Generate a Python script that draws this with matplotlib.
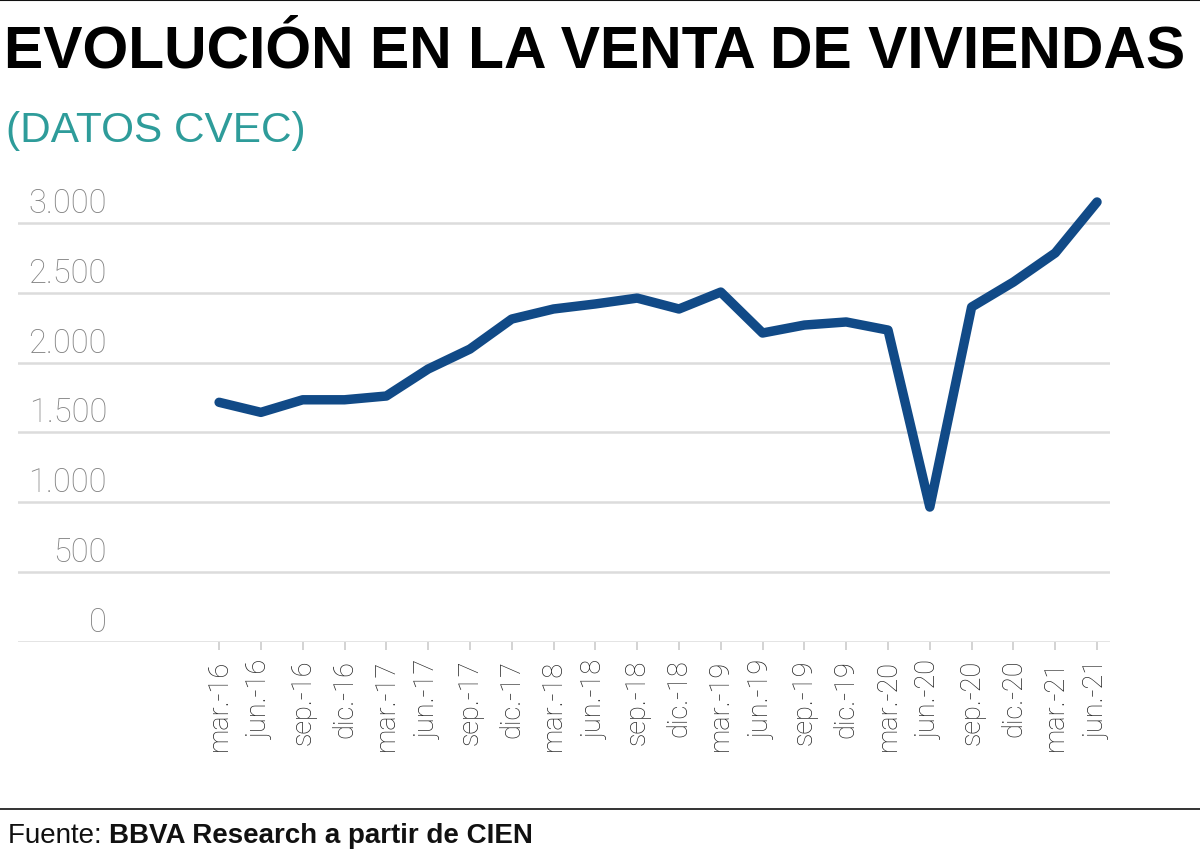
import matplotlib
matplotlib.use('Agg')
import matplotlib.pyplot as plt
from matplotlib import transforms
from matplotlib.lines import Line2D

W, H = 1200, 853

periods = ['mar.-16', 'jun.-16', 'sep.-16', 'dic.-16',
           'mar.-17', 'jun.-17', 'sep.-17', 'dic.-17',
           'mar.-18', 'jun.-18', 'sep.-18', 'dic.-18',
           'mar.-19', 'jun.-19', 'sep.-19', 'dic.-19',
           'mar.-20', 'jun.-20', 'sep.-20', 'dic.-20',
           'mar.-21', 'jun.-21']
ventas = [1716, 1644, 1734, 1734, 1761, 1954, 2097, 2312, 2384, 2420, 2462,
          2384, 2505, 2212, 2269, 2291, 2233, 966, 2398, 2577, 2785, 3150]

y_ticks = [0, 500, 1000, 1500, 2000, 2500, 3000]
y_labels = ['0', '500', '1.000', '1.500', '2.000', '2.500', '3.000']

title = 'EVOLUCIÓN EN LA VENTA DE VIVIENDAS'
subtitle = '(DATOS CVEC)'
source_a = 'Fuente: '
source_b = 'BBVA Research a partir de CIEN'

plt.rcParams['font.family'] = ['Liberation Sans', 'DejaVu Sans']
light = ['Roboto', 'DejaVu Sans']

fig = plt.figure(figsize=(W / 100, H / 100), dpi=100)
ax = fig.add_axes([18 / W, 1 - 643 / H, (1110 - 18) / W, (643 - 196) / H])

x = list(range(len(periods)))
ax.plot(x, ventas, color='#114a87', lw=6.8, solid_joinstyle='round',
        solid_capstyle='round', clip_on=False, zorder=3)
ax.set_xlim(-4.81, 21.31)
ax.set_ylim(0, 3200)

# gridlines (0 acts as axis line)
for v in y_ticks:
    ax.axhline(v, color='#dcdcdc', lw=1.8, zorder=1)

# y labels sit above their gridline
trans = transforms.blended_transform_factory(fig.transFigure, ax.transData)
trans = transforms.offset_copy(trans, fig=fig, x=0, y=11, units='dots')
for v, lab in zip(y_ticks, y_labels):
    ax.text(107 / W, v, lab, transform=trans, ha='right', va='baseline',
            fontsize=23.5, color='#828282', family=light, fontweight='light')

ax.set_yticks([])
ax.set_xticks(x, periods, rotation=90)
ax.tick_params(axis='x', length=6, width=1.3, color='#d0d0d0', pad=6,
               labelsize=19.5, labelcolor='#262626')
for t in ax.get_xticklabels():
    t.set_family(light)
    t.set_fontweight('light')
for s in ax.spines.values():
    s.set_visible(False)

# header
fig.add_artist(Line2D([0, 1], [1 - 1 / H] * 2, color='#111111', lw=1.5))
fig.text(4 / W, 1 - 68 / H, title, fontsize=42.4, fontweight='bold',
         color='#000000', ha='left', va='baseline')
fig.text(6 / W, 1 - 142 / H, subtitle, fontsize=30.5, color='#2e9c9a',
         ha='left', va='baseline')

# footer
fig.add_artist(Line2D([0, 1], [1 - 810 / H] * 2, color='#111111', lw=1.2))
t1 = fig.text(8 / W, 1 - 843 / H, source_a, fontsize=20, color='#111111',
              ha='left', va='baseline')
ax.annotate(source_b, xy=(1, 0), xycoords=t1, va='bottom', ha='left',
            fontsize=20, color='#111111', fontweight='bold')

fig.savefig('out.png', dpi=100)
